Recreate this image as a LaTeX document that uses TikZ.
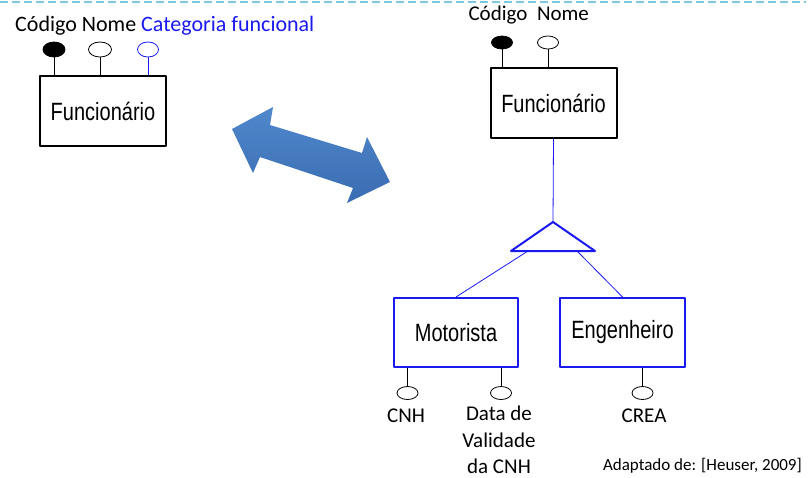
\documentclass[tikz,border=0pt]{standalone}
\usepackage{fontspec}
\setmainfont{Carlito}
\newfontfamily\boxfont[FakeStretch=0.8]{Liberation Sans}
\usetikzlibrary{shapes.geometric}

\definecolor{erblue}{RGB}{25,25,240}
\definecolor{arrowtop}{RGB}{80,136,204}
\definecolor{arrowbot}{RGB}{58,108,178}
\definecolor{slideline}{RGB}{125,200,225}

\tikzset{
  entity/.style={draw,line width=2pt,minimum width=126pt,minimum height=70pt,
    inner sep=0pt,font=\boxfont\fontsize{25}{30}\selectfont},
  attr/.style={draw,ellipse,line width=0.8pt,minimum width=21pt,minimum height=13pt,inner sep=0pt},
  keyattr/.style={attr,fill=black},
  lbl/.style={inner sep=0pt,font=\fontsize{21}{27}\selectfont},
  link/.style={line width=0.8pt},
}

\begin{document}
\begin{tikzpicture}[x=1pt,y=-1pt,line join=round]
\useasboundingbox (0,0) rectangle (809,477);

% linha pontilhada do slide
\draw[slideline,line width=2pt,dash pattern=on 8pt off 4pt] (0,2) -- (806,2);

%% ---- esquerda: atributo categoria ----
\node[entity] (func1) at (103,111) {Funcionário};
\node[keyattr,minimum width=22pt,minimum height=15pt] (cod1) at (54,49.5) {};
\node[attr,minimum width=23pt,minimum height=15pt] (nome1) at (100,49.5) {};
\node[attr,draw=erblue,minimum width=21pt,minimum height=15pt] (cat1) at (148,49.5) {};
\draw[link] (cod1.south) -- (cod1.south |- func1.north);
\draw[link] (nome1.south) -- (nome1.south |- func1.north);
\draw[link,erblue] (cat1.south) -- (cat1.south |- func1.north);
\node[lbl,anchor=base west,font=\fontsize{22}{27}\selectfont] (lbl1) at (15,31) {Código Nome \textcolor{erblue}{Categoria funcional}};

%% ---- seta dupla ----
\shade[top color=arrowtop,bottom color=arrowbot]
  (232,129) -- (273,107) -- (270,125) -- (362,153) -- (367,137)
  -- (390,182) -- (347,203) -- (353,188) -- (260,157) -- (253,173) -- cycle;

%% ---- direita: especializacao ----
\node[entity] (func2) at (553.5,103) {Funcionário};
\node[keyattr] (cod2) at (502,42.5) {};
\node[attr] (nome2) at (548,42.5) {};
\draw[link] (cod2.south) -- (cod2.south |- func2.north);
\draw[link] (nome2.south) -- (nome2.south |- func2.north);
\node[lbl,anchor=base] (lblcod2) at (498,20) {Código};
\node[lbl,anchor=base] (lblnome2) at (563,20) {Nome};

\coordinate (apex) at (553,222);
\coordinate (tl) at (511,251);
\coordinate (tr) at (595,251);
\coordinate (bl) at (528,251);
\coordinate (br) at (577,251);
\draw[erblue,line width=2pt] (apex) -- (tl) -- (tr) -- cycle;

\node[entity,draw=erblue,minimum width=124pt,minimum height=69pt] (moto) at (456,332.5) {Motorista};
\node[entity,draw=erblue,minimum width=125pt,minimum height=69pt] (eng) at (622.5,332.5) {Engenheiro};

\draw[erblue,line width=0.8pt] (func2.south) -- (apex);
\draw[erblue,line width=0.8pt] (bl) -- (moto.north);
\draw[erblue,line width=0.8pt] (br) -- (eng.north);

\node[attr] (cnh) at (407.5,393) {};
\node[attr] (val) at (501,393) {};
\node[attr] (crea) at (642.5,393) {};
\draw[link] (cnh.north) -- (cnh.north |- moto.south);
\draw[link] (val.north) -- (val.north |- moto.south);
\draw[link] (crea.north) -- (crea.north |- eng.south);

\node[lbl,anchor=base] (lblcnh) at (406,422) {CNH};
\node[lbl,anchor=north,align=center,font=\fontsize{21}{26.5}\selectfont] (lblval) at (499,406) {Data de\\Validade\\da CNH};
\node[lbl,anchor=base] (lblcrea) at (644,422) {CREA};

\node[inner sep=0pt,anchor=base east,font=\fontsize{17}{20}\selectfont] (fonte) at (802,470) {Adaptado de: [Heuser, 2009]};
\end{tikzpicture}
\end{document}
